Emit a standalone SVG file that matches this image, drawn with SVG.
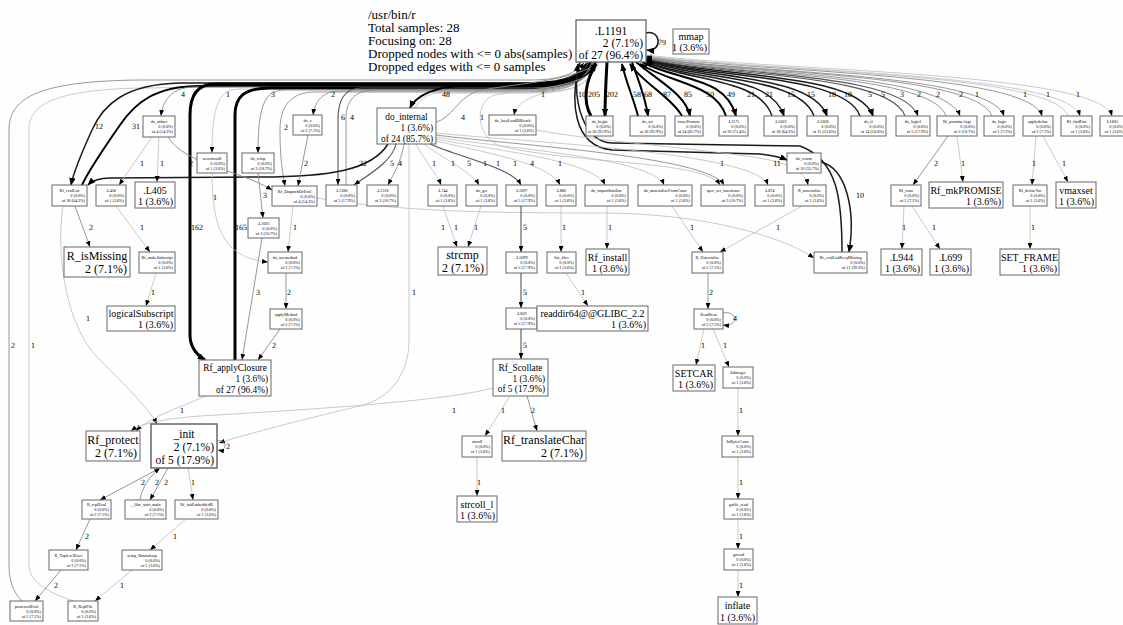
<svg xmlns="http://www.w3.org/2000/svg" width="1123" height="625" viewBox="0 0 1123 625">
<defs>
<style>
text{font-family:"Liberation Serif","Times New Roman",serif;fill:#000}
.nd rect{fill:#fff;stroke:#666;stroke-width:1}
.s{font-size:4.2px}
.m10{font-size:10px}
.m9{font-size:9.3px}
.m12{font-size:12px}
.c{text-anchor:middle}
.r{text-anchor:end}
.e path{fill:none;marker-end:url(#ah)}
.e path.c4,.e path.c5,.e path.c6{marker-end:url(#ahb)}
.lbl text{font-size:8px;text-anchor:middle;fill:#000;text-rendering:geometricPrecision}
.c1{stroke:#bdbdbd;stroke-width:0.8}
.c2{stroke:#8c8c8c;stroke-width:0.9}
.c3{stroke:#555;stroke-width:1.1}
.c4{stroke:#1a1a1a;stroke-width:1.5}
.c5{stroke:#000;stroke-width:2}
.c6{stroke:#000;stroke-width:3}
.legend{font-size:13px}
</style>
<marker id="ah" viewBox="0 0 10 8" refX="10" refY="4" markerWidth="6" markerHeight="5" markerUnits="userSpaceOnUse" orient="auto"><path d="M0,0L10,4L0,8z" fill="#000"/></marker>
<marker id="ahb" viewBox="0 0 10 8" refX="9" refY="4" markerWidth="8" markerHeight="6.5" markerUnits="userSpaceOnUse" orient="auto"><path d="M0,0L10,4L0,8z" fill="#000"/></marker>
</defs>
<rect x="0" y="0" width="1123" height="625" fill="#fdfefd"/>
<g id="legend" class="legend">
<text x="368" y="19">/usr/bin/r</text>
<text x="368" y="32">Total samples: 28</text>
<text x="368" y="45">Focusing on: 28</text>
<text x="368" y="58">Dropped nodes with &lt;= 0 abs(samples)</text>
<text x="368" y="71">Dropped edges with &lt;= 0 samples</text>
</g>
<g id="connectors" class="e">
<path class="c2" d="M22,601 C13,592 9,580 9,565 L9,130 C9,97 40,81 140,80 L530,80 C562,80 575,73 584,63"/>
<path class="c1" d="M74,601 C45,592 29,580 29,565 L29,130 C29,104 55,90 140,88 L530,84 C562,83 580,75 586,63"/>
<path class="c4" d="M588,62 C578,80 555,83 520,83 L180,83 C125,84 103,105 92,130 C82,152 74,170 71,185"/>
<path class="c5" d="M82,185 C90,168 104,148 120,125 C135,103 155,86 200,86 L520,86 C552,86 580,80 589,63"/>
<path class="c2" d="M589,62 C580,82 558,87 530,87 L195,87 C175,87 163,97 161,116"/>
<path class="c1" d="M590,62 C582,84 560,89 530,89 L240,89 C220,89 212,102 212,153"/>
<path class="c6" d="M591,62 C583,80 560,84 530,84 L215,84 C198,84 190,95 190,115 L190,335 C190,348 197,355 205,360"/>
<path class="c6" d="M235,360 L235,115 C235,96 245,88 270,88 L530,88 C556,88 585,80 592,64"/>
<path class="c2" d="M592,62 C585,84 560,90 530,90 L285,90 C266,90 258,102 258,153"/>
<path class="c2" d="M593,62 C586,85 560,91 530,91 L340,91 C323,91 315,101 313,115"/>
<path class="c2" d="M593,62 C587,86 560,92 530,92 L315,92 C292,92 280,105 280,130 C280,160 283,175 285,186"/>
<path class="c3" d="M594,62 C587,85 560,88 530,88 L362,88 C344,88 338,100 338,120 L338,185"/>
<path class="c2" d="M346,185 L346,118 C346,102 354,90 375,90 L530,90 C562,90 587,81 595,63"/>
<path class="c5" d="M596,62 C588,84 560,86 520,86 L462,86 C438,86 416,95 410,108"/>
<path class="c1" d="M597,62 C591,84 572,90 552,92 C530,95 516,104 514,115"/>
<path class="c1" d="M597,62 C592,88 565,93 530,93 L440,93 C420,93 409,110 409,140 L409,340 C409,372 392,398 360,406 C300,420 240,436 219,443"/>
<path class="c4" d="M580,62 C570,100 572,146 612,150 L760,154 C772,155 780,157 787,160"/>
<path class="c4" d="M842,252 C842,200 838,160 800,146 L612,143 C585,142 572,105 578,64"/>
<path class="c4" d="M821,162 C846,168 856,210 849,252"/>
<path class="c2" d="M436,122 C452,118 456,100 475,92 C500,84 565,84 597,64"/>
<path class="c1" d="M599,62 C593,88 520,90 495,95 C475,100 474,135 500,146 C580,165 705,160 720,185"/>
<path class="c4" d="M388,144 C372,170 330,177 260,177 L110,178 C98,178 92,181 88,185"/>
<path class="c3" d="M396,144 C392,162 368,175 354,185"/>
<path class="c2" d="M404,144 C401,162 393,175 388,185"/>
<path class="c1" d="M416,144 C424,160 437,174 441,185"/>
<path class="c1" d="M424,144 C445,160 472,172 479,185"/>
<path class="c3" d="M430,144 C462,158 512,168 521,185"/>
<path class="c1" d="M436,141 C482,152 550,163 560,185"/>
<path class="c1" d="M436,139 C492,150 594,160 605,185"/>
<path class="c1" d="M436,137 C502,148 654,158 664,185"/>
<path class="c2" d="M436,135 C512,145 708,156 724,185"/>
<path class="c1" d="M436,133 C522,142 756,152 768,185"/>
<path class="c1" d="M536,130 C600,142 720,150 770,160 C795,166 806,175 808,185"/>
<path class="c6" d="M607,62 C606,80 605,100 605,116"/>
<path class="c6" d="M591,116 C582,100 586,80 596,64"/>
<path class="c5" d="M632,62 C638,80 645,95 648,116"/>
<path class="c5" d="M638,116 C634,100 626,82 622,64"/>
<path class="c5" d="M682,116 C672,98 642,82 630,64"/>
<path class="c5" d="M636,62 C660,82 686,95 690,116"/>
<path class="c5" d="M726,116 C716,84 672,84 640,64"/>
<path class="c5" d="M642,62 C680,82 725,76 736,116"/>
<path class="c4" d="M772,116 C760,78 690,82 646,62"/>
<path class="c4" d="M645,62 C700,82 770,74 784,116"/>
<path class="c4" d="M814,116 C800,76 700,80 646,61"/>
<path class="c4" d="M646,60 C710,80 812,74 827,116"/>
<path class="c4" d="M860,116 C845,74 710,78 646,60"/>
<path class="c4" d="M646,59 C720,78 858,72 873,116"/>
<path class="c3" d="M905,116 C890,73 720,76 646,59"/>
<path class="c3" d="M646,58 C730,76 903,72 918,116"/>
<path class="c2" d="M646,57 C740,75 945,72 960,116"/>
<path class="c2" d="M946,116 C932,73 730,75 646,58"/>
<path class="c2" d="M646,57 C750,74 990,72 1004,116"/>
<path class="c2" d="M992,116 C975,72 740,74 646,57"/>
<path class="c2" d="M646,56 C760,73 1030,72 1042,116"/>
<path class="c1" d="M646,56 C770,72 1068,72 1080,116"/>
<path class="c1" d="M1068,116 C1055,72 760,72 646,56"/>
<path class="c1" d="M646,55 C780,71 1100,72 1112,116"/>
<path class="c4" d="M646,33 C661,29 663,52 647,50"/>
<path class="c2" d="M75,206 L90,247"/>
<path class="c1" d="M63,206 C55,260 68,330 100,360 C125,385 150,410 157,424"/>
<path class="c1" d="M152,137 L119,185"/>
<path class="c1" d="M159,137 L157,182"/>
<path class="c2" d="M168,137 C185,165 240,170 272,190"/>
<path class="c1" d="M116,206 L150,252"/>
<path class="c1" d="M156,273 L146,306"/>
<path class="c1" d="M212,173 C212,225 222,258 268,262"/>
<path class="c2" d="M258,173 L263,218"/>
<path class="c2" d="M262,238 L242,360"/>
<path class="c2" d="M308,135 L298,186"/>
<path class="c1" d="M293,206 L288,252"/>
<path class="c1" d="M317,198 C400,212 500,213 600,213 C700,213 780,235 814,258"/>
<path class="c2" d="M286,273 L286,309"/>
<path class="c2" d="M280,329 L258,360"/>
<path class="c1" d="M205,396 C185,406 150,416 136,431"/>
<path class="c1" d="M493,388 C440,402 300,410 200,416 C160,419 140,424 131,431"/>
<path class="c2" d="M217,441 C227,438 228,452 218,450"/>
<path class="c2" d="M160,468 L100,500"/>
<path class="c2" d="M140,500 C142,487 150,476 160,468"/>
<path class="c2" d="M168,468 L150,500"/>
<path class="c1" d="M188,468 L193,500"/>
<path class="c2" d="M90,519 L76,550"/>
<path class="c1" d="M186,519 L150,550"/>
<path class="c2" d="M61,570 L35,601"/>
<path class="c1" d="M132,570 L95,601"/>
<path class="c1" d="M443,206 L457,247"/>
<path class="c1" d="M481,206 L468,247"/>
<path class="c3" d="M521,206 L521,252"/>
<path class="c3" d="M521,273 L521,308"/>
<path class="c3" d="M521,329 L521,359"/>
<path class="c1" d="M561,206 L561,252"/>
<path class="c1" d="M566,273 L588,306"/>
<path class="c1" d="M607,206 L607,249"/>
<path class="c1" d="M672,206 L703,252"/>
<path class="c1" d="M802,206 L720,252"/>
<path class="c2" d="M708,273 L708,309"/>
<path class="c2" d="M723,313 C738,310 739,327 723,325"/>
<path class="c1" d="M704,329 L696,365"/>
<path class="c1" d="M713,329 L729,367"/>
<path class="c1" d="M738,388 L738,436"/>
<path class="c1" d="M738,457 L738,499"/>
<path class="c1" d="M738,519 L738,549"/>
<path class="c1" d="M738,570 L738,597"/>
<path class="c1" d="M510,396 L485,436"/>
<path class="c2" d="M527,396 L537,431"/>
<path class="c1" d="M477,457 L477,496"/>
<path class="c2" d="M948,136 L913,185"/>
<path class="c1" d="M957,136 L963,182"/>
<path class="c1" d="M1036,136 L1032,185"/>
<path class="c1" d="M1043,136 L1068,182"/>
<path class="c1" d="M904,206 L902,249"/>
<path class="c1" d="M912,206 L940,249"/>
<path class="c1" d="M1030,206 L1030,249"/>
<g class="lbl">
<text x="183" y="97">4</text><text x="228" y="97">1</text><text x="273" y="97">3</text><text x="333" y="97">2</text>
<text x="446" y="97">48</text><text x="543" y="97">1</text><text x="582" y="97">10</text><text x="594" y="97">205</text>
<text x="612" y="97">202</text><text x="637" y="97">58</text><text x="648" y="97">68</text><text x="667" y="97">87</text>
<text x="688" y="97">85</text><text x="710" y="97">50</text><text x="731" y="97">49</text><text x="751" y="97">21</text>
<text x="769" y="97">21</text><text x="791" y="97">15</text><text x="811" y="97">15</text><text x="832" y="97">18</text>
<text x="848" y="97">18</text><text x="870" y="97">5</text><text x="883" y="97">5</text><text x="902" y="97">3</text>
<text x="919" y="97">2</text><text x="938" y="97">2</text><text x="961" y="97">2</text><text x="977" y="97">1</text>
<text x="1025" y="97">1</text><text x="1048" y="97">1</text><text x="1078" y="97">1</text>
<text x="99" y="129">12</text><text x="136" y="129">31</text><text x="286" y="130">2</text><text x="343" y="120">6</text>
<text x="352" y="120">4</text><text x="463" y="120">4</text><text x="482" y="120">1</text><text x="662" y="45">79</text>
<text x="142" y="166">1</text><text x="162" y="166">1</text><text x="191" y="166">2</text><text x="306" y="166">2</text>
<text x="363" y="166">22</text><text x="392" y="166">5</text><text x="400" y="166">4</text><text x="434" y="166">1</text>
<text x="453" y="166">1</text><text x="469" y="166">5</text><text x="485" y="166">1</text><text x="498" y="166">1</text>
<text x="515" y="166">1</text><text x="532" y="166">4</text><text x="560" y="166">1</text><text x="722" y="166">1</text>
<text x="777" y="166">11</text><text x="936" y="166">2</text><text x="963" y="166">1</text><text x="1034" y="166">1</text>
<text x="1064" y="166">1</text>
<text x="215" y="200">1</text><text x="265" y="198">3</text><text x="860" y="198">10</text>
<text x="91" y="230">2</text><text x="142" y="230">1</text><text x="197" y="230">162</text><text x="241" y="230">165</text>
<text x="295" y="230">1</text><text x="443" y="230">1</text><text x="456" y="230">1</text><text x="476" y="230">1</text>
<text x="525" y="230">5</text><text x="564" y="230">1</text><text x="610" y="230">1</text><text x="692" y="230">1</text>
<text x="778" y="230">1</text><text x="904" y="230">1</text><text x="934" y="230">1</text><text x="1033" y="230">1</text>
<text x="153" y="295">1</text><text x="258" y="295">3</text><text x="289" y="295">2</text><text x="414" y="295">1</text>
<text x="525" y="295">5</text><text x="583" y="295">1</text><text x="711" y="295">2</text>
<text x="88" y="321">1</text><text x="735" y="321">4</text>
<text x="13" y="348">2</text><text x="33" y="348">1</text><text x="274" y="348">2</text><text x="525" y="348">5</text>
<text x="703" y="348">1</text><text x="725" y="348">1</text>
<text x="182" y="413">1</text><text x="454" y="413">1</text><text x="503" y="413">1</text><text x="533" y="413">2</text>
<text x="741" y="413">1</text><text x="228" y="449">2</text>
<text x="143" y="485">2</text><text x="157" y="485">2</text><text x="166" y="485">2</text><text x="193" y="485">1</text>
<text x="479" y="485">1</text><text x="741" y="485">1</text>
<text x="87" y="539">2</text><text x="175" y="539">1</text><text x="741" y="539">1</text>
<text x="56" y="588">2</text><text x="122" y="588">1</text><text x="741" y="588">1</text>
</g>
</g>
<g id="nodes">
<g id="n_L1191" class="nd"><rect x="576" y="20" width="70" height="42" style="stroke-width:1.3"/><text class="c" x="611" y="35" font-size="11.5">.L1191</text><text class="r" x="643" y="47" font-size="11.5">2 (7.1%)</text><text class="r" x="643" y="58.5" font-size="11.5">of 27 (96.4%)</text></g>
<g id="n_mmap" class="nd"><rect x="673" y="29" width="36" height="25"/><text class="c m10" x="691" y="40">mmap</text><text class="r m10" x="707" y="51">1 (3.6%)</text></g>
<g id="n_do_internal" class="nd"><rect x="377" y="108" width="59" height="36"/><text class="c m9" x="406.5" y="120">do_internal</text><text class="r m9" x="433" y="131">1 (3.6%)</text><text class="r m9" x="433" y="141.5">of 24 (85.7%)</text></g>
<g id="n_do_subset" class="nd"><rect x="143" y="116" width="32" height="21"/><text class="s c" x="159" y="122.5">do_subset</text><text class="s r" x="173" y="127.5">0 (0.0%)</text><text class="s r" x="173" y="132.5">of 4 (14.3%)</text></g>
<g id="n_newstrcold" class="nd"><rect x="197" y="153" width="30" height="20"/><text class="s c" x="212" y="159.5">newstrcold</text><text class="s r" x="225" y="164.5">0 (0.0%)</text><text class="s r" x="225" y="169.5">of 1 (3.6%)</text></g>
<g id="n_do_relop" class="nd"><rect x="242" y="153" width="32" height="20"/><text class="s c" x="258" y="159.5">do_relop</text><text class="s r" x="272" y="164.5">0 (0.0%)</text><text class="s r" x="272" y="169.5">of 3 (10.7%)</text></g>
<g id="n_do_c" class="nd"><rect x="293" y="115" width="29" height="20"/><text class="s c" x="307.5" y="121.5">do_c</text><text class="s r" x="320" y="126.5">0 (0.0%)</text><text class="s r" x="320" y="131.5">of 2 (7.1%)</text></g>
<g id="n_do_lazyLoadDBfetch" class="nd"><rect x="489" y="115" width="47" height="20"/><text class="s c" x="512.5" y="121.5">do_lazyLoadDBfetch</text><text class="s r" x="534" y="126.5">0 (0.0%)</text><text class="s r" x="534" y="131.5">of 1 (3.6%)</text></g>
<g id="n_do_begin" class="nd"><rect x="586" y="116" width="27" height="20"/><text class="s c" x="599.5" y="122.5">do_begin</text><text class="s r" x="611" y="127.5">0 (0.0%)</text><text class="s r" x="611" y="132.5">of 26 (92.9%)</text></g>
<g id="n_do_set" class="nd"><rect x="630" y="116" width="35" height="20"/><text class="s c" x="647.5" y="122.5">do_set</text><text class="s r" x="663" y="127.5">0 (0.0%)</text><text class="s r" x="663" y="132.5">of 26 (92.9%)</text></g>
<g id="n_forcePromise" class="nd"><rect x="675" y="116" width="28" height="20"/><text class="s c" x="689" y="122.5">forcePromise</text><text class="s r" x="701" y="127.5">0 (0.0%)</text><text class="s r" x="701" y="132.5">of 24 (85.7%)</text></g>
<g id="n_L1175" class="nd"><rect x="719" y="116" width="29" height="20"/><text class="s c" x="733.5" y="122.5">.L1175</text><text class="s r" x="746" y="127.5">0 (0.0%)</text><text class="s r" x="746" y="132.5">of 20 (71.4%)</text></g>
<g id="n_L1603" class="nd"><rect x="764" y="116" width="33" height="20"/><text class="s c" x="780.5" y="122.5">.L1603</text><text class="s r" x="795" y="127.5">0 (0.0%)</text><text class="s r" x="795" y="132.5">of 18 (64.3%)</text></g>
<g id="n_L1608" class="nd"><rect x="807" y="116" width="31" height="20"/><text class="s c" x="822.5" y="122.5">.L1608</text><text class="s r" x="836" y="127.5">0 (0.0%)</text><text class="s r" x="836" y="132.5">of 15 (53.6%)</text></g>
<g id="n_do_if" class="nd"><rect x="851" y="116" width="35" height="20"/><text class="s c" x="868.5" y="122.5">do_if</text><text class="s r" x="884" y="127.5">0 (0.0%)</text><text class="s r" x="884" y="132.5">of 14 (50.0%)</text></g>
<g id="n_do_logic2" class="nd"><rect x="896" y="116" width="34" height="20"/><text class="s c" x="913" y="122.5">do_logic2</text><text class="s r" x="928" y="127.5">0 (0.0%)</text><text class="s r" x="928" y="132.5">of 5 (17.9%)</text></g>
<g id="n_Rf_promiseArgs" class="nd"><rect x="937" y="116" width="40" height="20"/><text class="s c" x="957" y="122.5">Rf_promiseArgs</text><text class="s r" x="975" y="127.5">0 (0.0%)</text><text class="s r" x="975" y="132.5">of 3 (10.7%)</text></g>
<g id="n_do_logic" class="nd"><rect x="984" y="116" width="30" height="20"/><text class="s c" x="999" y="122.5">do_logic</text><text class="s r" x="1012" y="127.5">0 (0.0%)</text><text class="s r" x="1012" y="132.5">of 2 (7.1%)</text></g>
<g id="n_applydefine" class="nd"><rect x="1023" y="116" width="30" height="20"/><text class="s c" x="1038" y="122.5">applydefine</text><text class="s r" x="1051" y="127.5">0 (0.0%)</text><text class="s r" x="1051" y="132.5">of 2 (7.1%)</text></g>
<g id="n_Rf_findFun" class="nd"><rect x="1061" y="116" width="31" height="20"/><text class="s c" x="1076.5" y="122.5">Rf_findFun</text><text class="s r" x="1090" y="127.5">0 (0.0%)</text><text class="s r" x="1090" y="132.5">of 1 (3.6%)</text></g>
<g id="n_L1605" class="nd"><rect x="1100" y="116" width="30" height="20"/><text class="s c" x="1112" y="122.5">.L1605</text><text class="s r" x="1124" y="127.5">0 (0.0%)</text><text class="s r" x="1124" y="132.5">of 1 (3.6%)</text></g>
<g id="n_do_return" class="nd"><rect x="787" y="153" width="34" height="20"/><text class="s c" x="804" y="159.5">do_return</text><text class="s r" x="819" y="164.5">0 (0.0%)</text><text class="s r" x="819" y="169.5">of 10 (35.7%)</text></g>
<g id="n_Rf_evalList" class="nd"><rect x="52" y="185" width="35" height="21"/><text class="s c" x="69.5" y="191.5">Rf_evalList</text><text class="s r" x="85" y="196.5">0 (0.0%)</text><text class="s r" x="85" y="201.5">of 18 (64.3%)</text></g>
<g id="n_L458" class="nd"><rect x="96" y="185" width="30" height="21"/><text class="s c" x="111" y="191.5">.L458</text><text class="s r" x="124" y="196.5">0 (0.0%)</text><text class="s r" x="124" y="201.5">of 1 (3.6%)</text></g>
<g id="n_L405" class="nd"><rect x="135" y="182" width="40" height="26"/><text class="c m10" x="155" y="194">.L405</text><text class="r m10" x="173" y="205">1 (3.6%)</text></g>
<g id="n_Rf_DispatchOrEval" class="nd"><rect x="272" y="186" width="45" height="20"/><text class="s c" x="294.5" y="192.5">Rf_DispatchOrEval</text><text class="s r" x="315" y="197.5">0 (0.0%)</text><text class="s r" x="315" y="202.5">of 4 (14.3%)</text></g>
<g id="n_L1286" class="nd"><rect x="326" y="185" width="31" height="21"/><text class="s c" x="341.5" y="191.5">.L1286</text><text class="s r" x="355" y="196.5">0 (0.0%)</text><text class="s r" x="355" y="201.5">of 5 (17.9%)</text></g>
<g id="n_L1316" class="nd"><rect x="367" y="185" width="31" height="21"/><text class="s c" x="382.5" y="191.5">.L1316</text><text class="s r" x="396" y="196.5">0 (0.0%)</text><text class="s r" x="396" y="201.5">of 3 (10.7%)</text></g>
<g id="n_L744" class="nd"><rect x="428" y="185" width="29" height="21"/><text class="s c" x="442.5" y="191.5">.L744</text><text class="s r" x="455" y="196.5">0 (0.0%)</text><text class="s r" x="455" y="201.5">of 1 (3.6%)</text></g>
<g id="n_do_get" class="nd"><rect x="466" y="185" width="31" height="21"/><text class="s c" x="481.5" y="191.5">do_get</text><text class="s r" x="495" y="196.5">0 (0.0%)</text><text class="s r" x="495" y="201.5">of 1 (3.6%)</text></g>
<g id="n_L1697" class="nd"><rect x="506" y="185" width="31" height="21"/><text class="s c" x="521.5" y="191.5">.L1697</text><text class="s r" x="535" y="196.5">0 (0.0%)</text><text class="s r" x="535" y="201.5">of 5 (17.9%)</text></g>
<g id="n_L880" class="nd"><rect x="546" y="185" width="30" height="21"/><text class="s c" x="561" y="191.5">.L880</text><text class="s r" x="574" y="196.5">0 (0.0%)</text><text class="s r" x="574" y="201.5">of 1 (3.6%)</text></g>
<g id="n_do_importIntoEnv" class="nd"><rect x="585" y="185" width="43" height="21"/><text class="s c" x="606.5" y="191.5">do_importIntoEnv</text><text class="s r" x="626" y="196.5">0 (0.0%)</text><text class="s r" x="626" y="201.5">of 1 (3.6%)</text></g>
<g id="n_do_unserializeFromConn" class="nd"><rect x="638" y="185" width="54" height="21"/><text class="s c" x="665" y="191.5">do_unserializeFromConn</text><text class="s r" x="690" y="196.5">0 (0.0%)</text><text class="s r" x="690" y="201.5">of 1 (3.6%)</text></g>
<g id="n_spec_set_insertions" class="nd"><rect x="701" y="185" width="44" height="21"/><text class="s c" x="723" y="191.5">spec_set_insertions</text><text class="s r" x="743" y="196.5">0 (0.0%)</text><text class="s r" x="743" y="201.5">of 3 (10.7%)</text></g>
<g id="n_L874" class="nd"><rect x="755" y="185" width="29" height="21"/><text class="s c" x="769.5" y="191.5">.L874</text><text class="s r" x="782" y="196.5">0 (0.0%)</text><text class="s r" x="782" y="201.5">of 1 (3.6%)</text></g>
<g id="n_R_unserialize" class="nd"><rect x="793" y="185" width="33" height="21"/><text class="s c" x="809.5" y="191.5">R_unserialize</text><text class="s r" x="824" y="196.5">0 (0.0%)</text><text class="s r" x="824" y="201.5">of 1 (3.6%)</text></g>
<g id="n_Rf_cons" class="nd"><rect x="891" y="185" width="30" height="21"/><text class="s c" x="906" y="191.5">Rf_cons</text><text class="s r" x="919" y="196.5">0 (0.0%)</text><text class="s r" x="919" y="201.5">of 2 (7.1%)</text></g>
<g id="n_Rf_mkPROMISE" class="nd"><rect x="929" y="182" width="74" height="26"/><text class="c m10" x="966" y="194">Rf_mkPROMISE</text><text class="r m10" x="1001" y="205">1 (3.6%)</text></g>
<g id="n_Rf_defineVar" class="nd"><rect x="1013" y="185" width="34" height="21"/><text class="s c" x="1030" y="191.5">Rf_defineVar</text><text class="s r" x="1045" y="196.5">0 (0.0%)</text><text class="s r" x="1045" y="201.5">of 1 (3.6%)</text></g>
<g id="n_vmaxset" class="nd"><rect x="1056" y="182" width="40" height="26"/><text class="c m10" x="1076" y="194">vmaxset</text><text class="r m10" x="1094" y="205">1 (3.6%)</text></g>
<g id="n_L1695" class="nd"><rect x="248" y="218" width="31" height="20"/><text class="s c" x="263.5" y="224.5">.L1695</text><text class="s r" x="277" y="229.5">0 (0.0%)</text><text class="s r" x="277" y="234.5">of 3 (10.7%)</text></g>
<g id="n_R_isMissing" class="nd"><rect x="64" y="247" width="66" height="30"/><text class="c m12" x="97" y="260">R_isMissing</text><text class="r m12" x="127" y="273">2 (7.1%)</text></g>
<g id="n_Rf_makeSubscript" class="nd"><rect x="139" y="252" width="36" height="21"/><text class="s c" x="157" y="258.5">Rf_makeSubscript</text><text class="s r" x="173" y="263.5">0 (0.0%)</text><text class="s r" x="173" y="268.5">of 1 (3.6%)</text></g>
<g id="n_do_usemethod" class="nd"><rect x="268" y="252" width="34" height="21"/><text class="s c" x="285" y="258.5">do_usemethod</text><text class="s r" x="300" y="263.5">0 (0.0%)</text><text class="s r" x="300" y="268.5">of 2 (7.1%)</text></g>
<g id="n_strcmp" class="nd"><rect x="438" y="247" width="49" height="28"/><text class="c m12" x="462.5" y="259">strcmp</text><text class="r m12" x="484" y="272">2 (7.1%)</text></g>
<g id="n_L1699" class="nd"><rect x="506" y="252" width="31" height="21"/><text class="s c" x="521.5" y="258.5">.L1699</text><text class="s r" x="535" y="263.5">0 (0.0%)</text><text class="s r" x="535" y="268.5">of 5 (17.9%)</text></g>
<g id="n_list_files" class="nd"><rect x="547" y="252" width="29" height="21"/><text class="s c" x="561.5" y="258.5">list_files</text><text class="s r" x="574" y="263.5">0 (0.0%)</text><text class="s r" x="574" y="268.5">of 1 (3.6%)</text></g>
<g id="n_Rf_install" class="nd"><rect x="586" y="249" width="43" height="26"/><text class="c m10" x="607.5" y="261">Rf_install</text><text class="r m10" x="627" y="272">1 (3.6%)</text></g>
<g id="n_R_Unserialize" class="nd"><rect x="692" y="252" width="31" height="21"/><text class="s c" x="707.5" y="258.5">R_Unserialize</text><text class="s r" x="721" y="263.5">0 (0.0%)</text><text class="s r" x="721" y="268.5">of 2 (7.1%)</text></g>
<g id="n_Rf_evalListKeepMissing" class="nd"><rect x="814" y="252" width="53" height="21"/><text class="s c" x="840.5" y="258.5">Rf_evalListKeepMissing</text><text class="s r" x="865" y="263.5">0 (0.0%)</text><text class="s r" x="865" y="268.5">of 11 (39.3%)</text></g>
<g id="n_L944" class="nd"><rect x="881" y="249" width="41" height="26"/><text class="c m10" x="901.5" y="261">.L944</text><text class="r m10" x="920" y="272">1 (3.6%)</text></g>
<g id="n_L699" class="nd"><rect x="930" y="249" width="41" height="26"/><text class="c m10" x="950.5" y="261">.L699</text><text class="r m10" x="969" y="272">1 (3.6%)</text></g>
<g id="n_SET_FRAME" class="nd"><rect x="1000" y="249" width="59" height="26"/><text class="c m10" x="1029.5" y="261">SET_FRAME</text><text class="r m10" x="1057" y="272">1 (3.6%)</text></g>
<g id="n_logicalSubscript" class="nd"><rect x="107" y="306" width="68" height="25"/><text class="c m10" x="141" y="317">logicalSubscript</text><text class="r m10" x="173" y="328">1 (3.6%)</text></g>
<g id="n_applyMethod" class="nd"><rect x="270" y="309" width="32" height="20"/><text class="s c" x="286" y="315.5">applyMethod</text><text class="s r" x="300" y="320.5">0 (0.0%)</text><text class="s r" x="300" y="325.5">of 2 (7.1%)</text></g>
<g id="n_L859" class="nd"><rect x="506" y="308" width="31" height="21"/><text class="s c" x="521.5" y="314.5">.L859</text><text class="s r" x="535" y="319.5">0 (0.0%)</text><text class="s r" x="535" y="324.5">of 5 (17.9%)</text></g>
<g id="n_readdir64" class="nd"><rect x="537" y="306" width="111" height="25"/><text class="c m10" x="592.5" y="317">readdir64@@GLIBC_2.2</text><text class="r m10" x="646" y="328">1 (3.6%)</text></g>
<g id="n_ReadItem" class="nd"><rect x="694" y="309" width="29" height="20"/><text class="s c" x="708.5" y="315.5">ReadItem</text><text class="s r" x="721" y="320.5">0 (0.0%)</text><text class="s r" x="721" y="325.5">of 2 (7.1%)</text></g>
<g id="n_Rf_applyClosure" class="nd"><rect x="199" y="360" width="72" height="36"/><text class="c m9" x="235" y="371">Rf_applyClosure</text><text class="r m9" x="268" y="382">1 (3.6%)</text><text class="r m9" x="268" y="392.5">of 27 (96.4%)</text></g>
<g id="n_Rf_Scollate" class="nd"><rect x="493" y="359" width="55" height="37"/><text class="c m9" x="520.5" y="370.5">Rf_Scollate</text><text class="r m9" x="545" y="381.5">1 (3.6%)</text><text class="r m9" x="545" y="392">of 5 (17.9%)</text></g>
<g id="n_SETCAR" class="nd"><rect x="673" y="365" width="42" height="26"/><text class="c m10" x="694" y="377">SETCAR</text><text class="r m10" x="713" y="388">1 (3.6%)</text></g>
<g id="n_InInteger" class="nd"><rect x="723" y="367" width="30" height="21"/><text class="s c" x="738" y="373.5">InInteger</text><text class="s r" x="751" y="378.5">0 (0.0%)</text><text class="s r" x="751" y="383.5">of 1 (3.6%)</text></g>
<g id="n_Rf_protect" class="nd"><rect x="86" y="431" width="54" height="30"/><text class="c m12" x="113" y="444">Rf_protect</text><text class="r m12" x="137" y="457">2 (7.1%)</text></g>
<g id="n__init" class="nd"><rect x="151" y="424" width="66" height="44" style="stroke-width:1.5"/><text class="c" x="184" y="438" font-size="11.5">_init</text><text class="r" x="214" y="451" font-size="11.5">2 (7.1%)</text><text class="r" x="214" y="464" font-size="11.5">of 5 (17.9%)</text></g>
<g id="n_strcoll" class="nd"><rect x="462" y="436" width="30" height="21"/><text class="s c" x="477" y="442.5">strcoll</text><text class="s r" x="490" y="447.5">0 (0.0%)</text><text class="s r" x="490" y="452.5">of 1 (3.6%)</text></g>
<g id="n_Rf_translateChar" class="nd"><rect x="502" y="431" width="84" height="30"/><text class="c m12" x="544" y="444">Rf_translateChar</text><text class="r m12" x="583" y="457">2 (7.1%)</text></g>
<g id="n_InBytesConn" class="nd"><rect x="722" y="436" width="31" height="21"/><text class="s c" x="737.5" y="442.5">InBytesConn</text><text class="s r" x="751" y="447.5">0 (0.0%)</text><text class="s r" x="751" y="452.5">of 1 (3.6%)</text></g>
<g id="n_R_replEval" class="nd"><rect x="82" y="500" width="29" height="19"/><text class="s c" x="96.5" y="506">R_replEval</text><text class="s r" x="109" y="511">0 (0.0%)</text><text class="s r" x="109" y="516">of 2 (7.1%)</text></g>
<g id="n___libc_start_main" class="nd"><rect x="125" y="500" width="41" height="19"/><text class="s c" x="145.5" y="506">__libc_start_main</text><text class="s r" x="164" y="511">0 (0.0%)</text><text class="s r" x="164" y="516">of 2 (7.1%)</text></g>
<g id="n_Rf_initEmbeddedR" class="nd"><rect x="175" y="500" width="43" height="19"/><text class="s c" x="196.5" y="506">Rf_initEmbeddedR</text><text class="s r" x="216" y="511">0 (0.0%)</text><text class="s r" x="216" y="516">of 1 (3.6%)</text></g>
<g id="n_strcoll_l" class="nd"><rect x="457" y="496" width="40" height="26"/><text class="c m10" x="477" y="508">strcoll_l</text><text class="r m10" x="495" y="519">1 (3.6%)</text></g>
<g id="n_gzfile_read" class="nd"><rect x="724" y="499" width="29" height="20"/><text class="s c" x="738.5" y="505.5">gzfile_read</text><text class="s r" x="751" y="510.5">0 (0.0%)</text><text class="s r" x="751" y="515.5">of 1 (3.6%)</text></g>
<g id="n_R_ToplevelExec" class="nd"><rect x="49" y="550" width="39" height="20"/><text class="s c" x="68.5" y="556.5">R_ToplevelExec</text><text class="s r" x="86" y="561.5">0 (0.0%)</text><text class="s r" x="86" y="566.5">of 2 (7.1%)</text></g>
<g id="n_setup_Rmainloop" class="nd"><rect x="122" y="550" width="40" height="20"/><text class="s c" x="142" y="556.5">setup_Rmainloop</text><text class="s r" x="160" y="561.5">0 (0.0%)</text><text class="s r" x="160" y="566.5">of 1 (3.6%)</text></g>
<g id="n_gzread" class="nd"><rect x="724" y="549" width="29" height="21"/><text class="s c" x="738.5" y="555.5">gzread</text><text class="s r" x="751" y="560.5">0 (0.0%)</text><text class="s r" x="751" y="565.5">of 1 (3.6%)</text></g>
<g id="n_protectedEval" class="nd"><rect x="10" y="601" width="33" height="20"/><text class="s c" x="26.5" y="607.5">protectedEval</text><text class="s r" x="41" y="612.5">0 (0.0%)</text><text class="s r" x="41" y="617.5">of 2 (7.1%)</text></g>
<g id="n_R_ReplFile" class="nd"><rect x="68" y="601" width="30" height="20"/><text class="s c" x="83" y="607.5">R_ReplFile</text><text class="s r" x="96" y="612.5">0 (0.0%)</text><text class="s r" x="96" y="617.5">of 1 (3.6%)</text></g>
<g id="n_inflate" class="nd"><rect x="718" y="597" width="39" height="27"/><text class="c m10" x="737.5" y="609">inflate</text><text class="r m10" x="755" y="620.5">1 (3.6%)</text></g>
</g>
</svg>
